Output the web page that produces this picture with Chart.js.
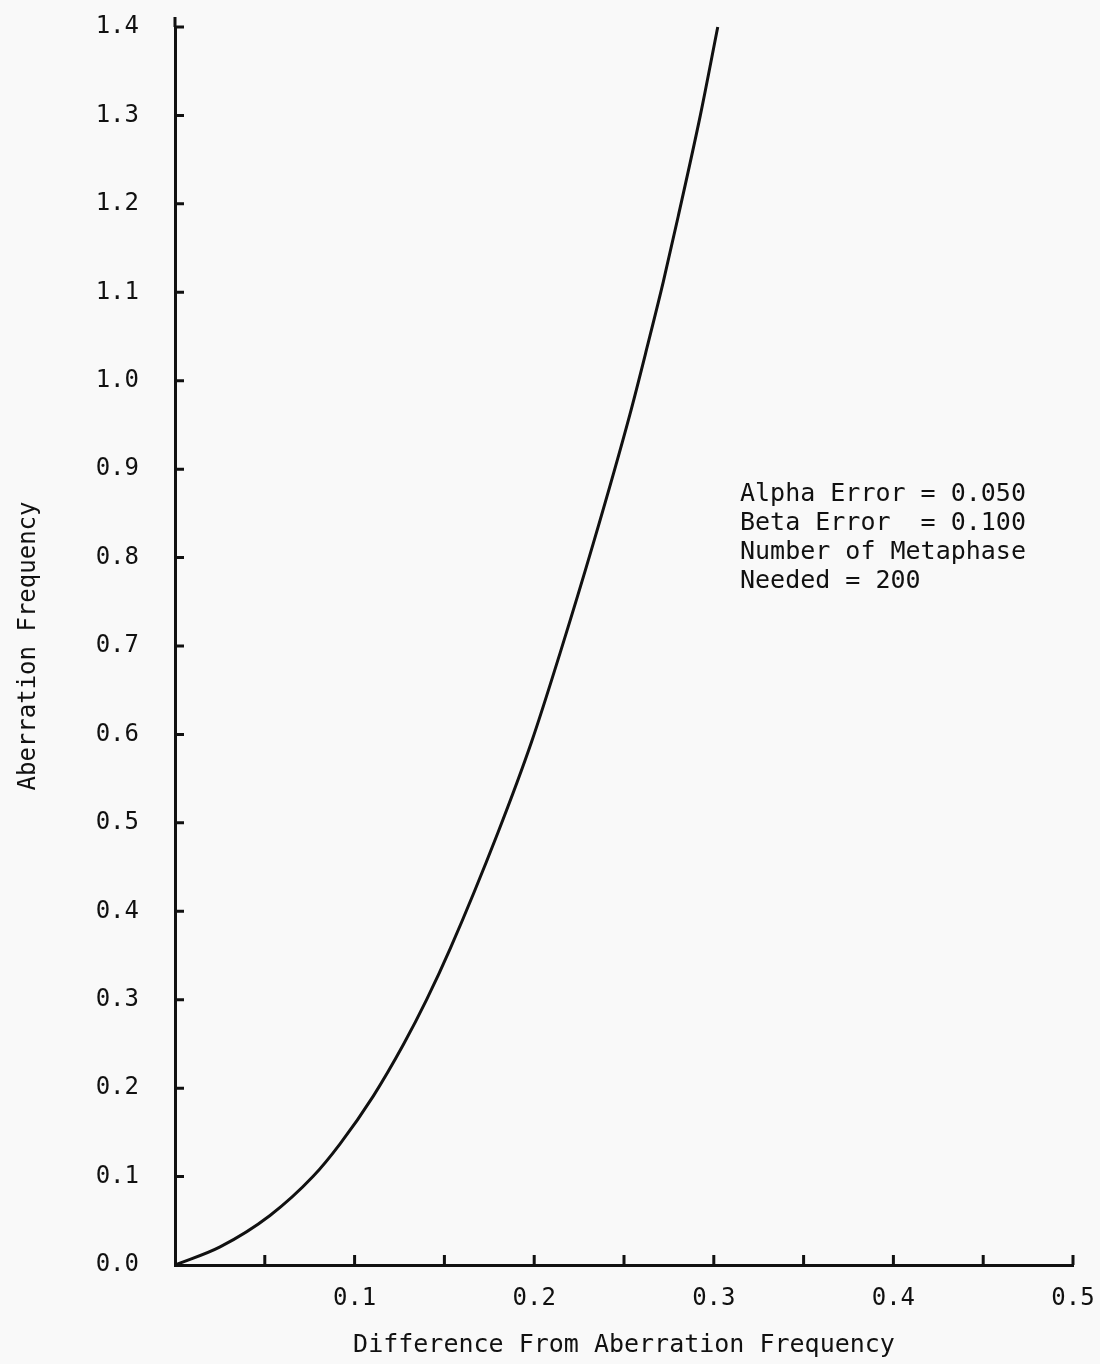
<!DOCTYPE html>
<html>
<head>
<meta charset="utf-8">
<script src="https://cdn.jsdelivr.net/npm/chart.js@4/dist/chart.umd.min.js"></script>
<style>
  html, body { margin: 0; padding: 0; background: #f9f9f9; }
  #wrap { width: 1100px; height: 1364px; }
</style>
</head>
<body>
<div id="wrap"><canvas id="chart"></canvas></div>
<script>
// values (slightly smoothed by eye)
const diffValues = [0, 0.0251, 0.0529, 0.0768, 0.0919, 0.1104, 0.1271, 0.1401, 0.1533, 0.180, 0.1986, 0.2144, 0.2329, 0.2533, 0.2635, 0.2719, 0.2802, 0.2925, 0.3022];
const aberrationValues = [0, 0.0205, 0.056, 0.100, 0.137, 0.191, 0.249, 0.300, 0.358, 0.490, 0.592, 0.692, 0.816, 0.962, 1.043, 1.112, 1.186, 1.300, 1.400];
const xTickValues = [0.05, 0.1, 0.15, 0.2, 0.25, 0.3, 0.35, 0.4, 0.45, 0.5];
const yTickValues = [0.1, 0.2, 0.3, 0.4, 0.5, 0.6, 0.7, 0.8, 0.9, 1.0, 1.1, 1.2, 1.3, 1.4];
const noteLines = ['Alpha Error = 0.050', 'Beta Error  = 0.100', 'Number of Metaphase', 'Needed = 200'];

const FONT = '"DejaVu Sans Mono", "Liberation Mono", monospace';
const INK = '#111';

// ticks in the scan point into the plot, so draw them by hand
const innerTicks = {
  id: 'innerTicks',
  afterDraw(chart) {
    const { ctx, scales: { x, y } } = chart;
    ctx.save();
    ctx.strokeStyle = INK;
    ctx.lineWidth = 3;
    ctx.beginPath();
    yTickValues.forEach(v => {
      const py = y.getPixelForValue(v);
      ctx.moveTo(x.left, py);
      ctx.lineTo(x.left + 9, py);
    });
    xTickValues.forEach(v => {
      const px = x.getPixelForValue(v);
      ctx.moveTo(px, y.bottom);
      ctx.lineTo(px, y.bottom - 10);
    });
    // axis runs a little past 1.4
    ctx.moveTo(x.left, y.top);
    ctx.lineTo(x.left, y.top - 10);
    ctx.stroke();

    ctx.fillStyle = INK;
    ctx.font = '25px ' + FONT;
    ctx.textBaseline = 'alphabetic';
    noteLines.forEach((t, i) => ctx.fillText(t, 740, 501 + i * 29));
    ctx.restore();
  }
};

new Chart(document.getElementById('chart'), {
  type: 'line',
  data: {
    datasets: [{
      data: diffValues.map((d, i) => ({ x: d, y: aberrationValues[i] })),
      borderColor: INK,
      borderWidth: 3,
      pointRadius: 0,
      fill: false,
      clip: false,
      cubicInterpolationMode: 'monotone'
    }]
  },
  options: {
    responsive: true,
    maintainAspectRatio: false,
    animation: false,
    layout: { padding: { top: 27, right: 27, left: 0, bottom: 0 } },
    plugins: { legend: { display: false }, tooltip: { enabled: false } },
    scales: {
      x: {
        type: 'linear',
        min: 0,
        max: 0.5,
        grid: { display: false },
        border: { display: true, width: 3, color: INK },
        ticks: {
          stepSize: 0.1,
          padding: 11,
          color: INK,
          font: { family: FONT, size: 24 },
          callback: v => v === 0 ? '' : v.toFixed(1)
        },
        title: {
          display: true,
          text: 'Difference From Aberration Frequency',
          color: INK,
          font: { family: FONT, size: 25 },
          padding: { top: 0, bottom: 4 }
        },
        afterFit: s => { s.height = 99; s.paddingLeft = 0; s.paddingRight = 0; }
      },
      y: {
        type: 'linear',
        min: 0,
        max: 1.4,
        grid: { display: false },
        border: { display: true, width: 3, color: INK },
        ticks: {
          stepSize: 0.1,
          padding: 28,
          color: INK,
          font: { family: FONT, size: 24 },
          callback: v => v.toFixed(1)
        },
        title: {
          display: true,
          text: 'Aberration Frequency',
          color: INK,
          font: { family: FONT, size: 24 },
          padding: { top: 14, bottom: 0 }
        },
        afterFit: s => { s.width = 175; s.paddingTop = 0; s.paddingBottom = 0; }
      }
    }
  },
  plugins: [innerTicks]
});
</script>
</body>
</html>
